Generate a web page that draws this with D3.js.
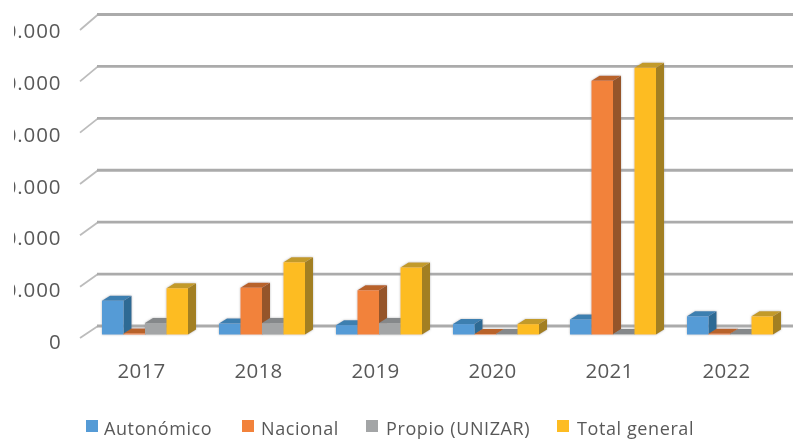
<!DOCTYPE html>
<html>
<head>
<meta charset="utf-8">
<script src="https://cdn.jsdelivr.net/npm/d3@7"></script>
<style>
    html, body { margin: 0; padding: 0; background: #fff; overflow: hidden; }
    text { font-family: "Open Sans", sans-serif; fill: #595959; }
</style>
</head>
<body>
<div id="chart"></div>
<script>
// Values
const years = ["2017", "2018", "2019", "2020", "2021", "2022"];
const seriesNames = ["Autonómico", "Nacional", "Propio (UNIZAR)", "Total general"];
const autonomico = [6500, 2100, 1800, 2000, 2900, 3500];
const nacional = [200, 9000, 8500, 100, 48800, 150];
const propio = [2200, 2200, 2200, 100, 100, 100];
const total = [8900, 13900, 12900, 2000, 51300, 3500];
const yTicks = [0, 10000, 20000, 30000, 40000, 50000, 60000];
const yLabels = ["0", "10.000", "20.000", "30.000", "40.000", "50.000", "60.000"];

const frontColors = ["#559bd6", "#f2823a", "#a3a5a6", "#fdbc23"];
const sideColors = ["#2f6b94", "#95542a", "#767879", "#a27f24"];
const topColors = ["#3d7fb0", "#b8622c", "#85888a", "#c29a2a"];

const seriesValues = [autonomico, nacional, propio, total];

const width = 793, height = 439;
const depthX = 8, depthY = 5;

const svg = d3.select("#chart")
    .append("svg")
    .attr("width", width)
    .attr("height", height);

// The picture is a soft upscaled screenshot
const defs = svg.append("defs");
defs.append("filter").attr("id", "soft")
    .append("feGaussianBlur").attr("stdDeviation", 0.5);
defs.append("filter").attr("id", "softText")
    .append("feGaussianBlur").attr("stdDeviation", 0.35);
const barFilter = defs.append("filter").attr("id", "softBar");
barFilter.append("feDropShadow")
    .attr("dx", 0).attr("dy", 0).attr("stdDeviation", 0.8)
    .attr("flood-color", "#888").attr("flood-opacity", 0.6)
    .attr("result", "shadow");
barFilter.append("feGaussianBlur").attr("in", "shadow").attr("stdDeviation", 0.4);
defs.append("clipPath").attr("id", "labelClip")
    .append("rect").attr("x", 14).attr("y", 0).attr("width", 80).attr("height", height);

// Scales: back wall, front ticks, labels and bars sit on slightly different planes
const yBack = d3.scaleLinear().domain([0, 60000]).range([326, 14.5]);
const yFront = d3.scaleLinear().domain([0, 60000]).range([338, 30]);
const yLabel = d3.scaleLinear().domain([0, 60000]).range([342, 31]);
const yBar = d3.scaleLinear().domain([0, 60000]).range([334.5, 22.5]);
const xLabel = d3.scaleBand().domain(years).range([83, 785]);
const xGroup = d3.scaleBand().domain(years).range([86.5, 788.5]).paddingInner(0.265).paddingOuter(0.1325);
const xBar = d3.scaleBand().domain(seriesNames).range([0, xGroup.bandwidth()]);

const line = d3.line();

// Gridlines on the back wall and the short slanted piece on the left wall
const grid = svg.append("g").attr("filter", "url(#soft)").attr("fill", "none");
grid.selectAll(".wall")
    .data(yTicks)
    .join("path")
    .attr("class", "wall")
    .attr("stroke", "#bcbcbc")
    .attr("stroke-width", 1.8)
    .attr("d", d => line([[80, yFront(d)], [98, yBack(d)]]));
grid.selectAll(".back")
    .data(yTicks)
    .join("path")
    .attr("class", "back")
    .attr("stroke", "#ababab")
    .attr("stroke-width", 2.8)
    .attr("d", d => line([[97, yBack(d)], [793, yBack(d)]]));

// Bars
const bars = svg.append("g").attr("filter", "url(#softBar)");
years.forEach((year, i) => {
    seriesNames.forEach((name, s) => {
        const x0 = xGroup(year) + xBar(name);
        const x1 = x0 + xBar.bandwidth();
        const y0 = yBar(0);
        const y1 = yBar(seriesValues[s][i]);

        // right side
        bars.append("polygon")
            .attr("fill", sideColors[s])
            .attr("points", [[x1, y0], [x1 + depthX, y0 - depthY], [x1 + depthX, y1 - depthY], [x1, y1]].join(" "));
        // top
        bars.append("polygon")
            .attr("fill", topColors[s])
            .attr("points", [[x0, y1], [x0 + depthX, y1 - depthY], [x1 + depthX, y1 - depthY], [x1, y1]].join(" "));
        // front
        bars.append("rect")
            .attr("x", x0)
            .attr("y", y1)
            .attr("width", xBar.bandwidth())
            .attr("height", y0 - y1)
            .attr("fill", frontColors[s]);
    });
});

// Y axis labels, cut off on the left like in the original
const yAxis = svg.append("g")
    .attr("clip-path", "url(#labelClip)")
    .append("g")
    .attr("filter", "url(#softText)")
    .attr("transform", "translate(61.5,0)")
    .call(d3.axisLeft(yLabel).tickValues(yTicks).tickSize(0).tickPadding(0)
        .tickFormat((d, i) => yLabels[i]));
yAxis.select(".domain").remove();
yAxis.selectAll("text")
    .attr("font-size", 20.5)
    .attr("letter-spacing", 0.9);

// X axis labels
const xAxis = svg.append("g")
    .attr("filter", "url(#softText)")
    .attr("transform", "translate(0,363)")
    .call(d3.axisBottom(xLabel).tickSize(0).tickPadding(0));
xAxis.select(".domain").remove();
xAxis.selectAll("text")
    .attr("font-size", 20.5)
    .attr("letter-spacing", 0.3);

// Legend
const legendSquares = [86, 242, 366, 557];
const legendLabels = [104, 261, 386, 577];
const legend = svg.append("g").attr("filter", "url(#softText)");
seriesNames.forEach((name, s) => {
    legend.append("rect")
        .attr("x", legendSquares[s])
        .attr("y", 420)
        .attr("width", 12)
        .attr("height", 12)
        .attr("fill", frontColors[s]);
    legend.append("text")
        .attr("x", legendLabels[s])
        .attr("y", 435)
        .attr("font-size", 18)
        .attr("letter-spacing", 0.6)
        .text(name);
});
</script>
</body>
</html>
